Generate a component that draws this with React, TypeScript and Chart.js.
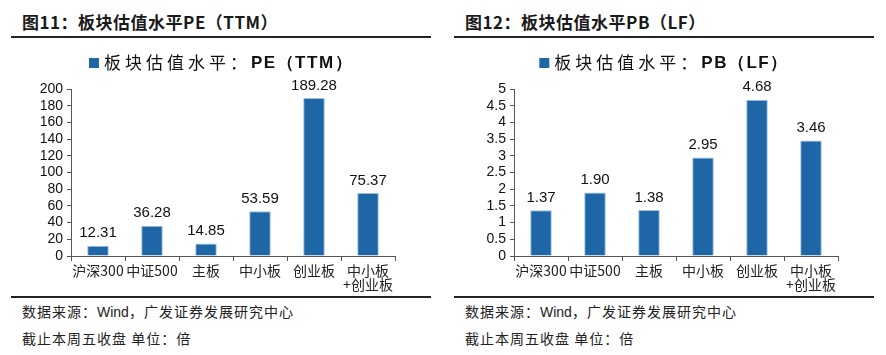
import React, { useEffect, useRef } from "react";
import { Chart, registerables } from "chart.js";

Chart.register(...registerables);

const categories: (string | string[])[] = ["沪深300", "中证500", "主板", "中小板", "创业板", ["中小板", "+创业板"]];
const peValues = [12.31, 36.28, 14.85, 53.59, 189.28, 75.37];
const pbValues = [1.37, 1.9, 1.38, 2.95, 4.68, 3.46];
const peAxis = { max: 200, step: 20 };
const pbAxis = { max: 5, step: 0.5 };

const BAR = "#1f66a6";
const CJK = '"Noto Sans CJK SC", "Liberation Sans", sans-serif';
const LAT = '"Liberation Sans", Arial, sans-serif';

const valueLabels = {
  id: "valueLabels",
  afterDatasetsDraw(chart: any) {
    const ctx = chart.ctx;
    const meta = chart.getDatasetMeta(0);
    const data = chart.data.datasets[0].data as number[];
    ctx.save();
    ctx.font = `15px ${LAT}`;
    ctx.fillStyle = "#111";
    ctx.textAlign = "center";
    ctx.textBaseline = "bottom";
    meta.data.forEach((bar: any, i: number) => {
      ctx.fillText(data[i].toFixed(2), bar.x, bar.y - 5);
    });
    ctx.restore();
  },
};

const mixedLegend = {
  id: "mixedLegend",
  afterDraw(chart: any) {
    const opts = chart.options.plugins.mixedLegend;
    if (!opts) return;
    const ctx = chart.ctx;
    ctx.save();
    ctx.textBaseline = "middle";
    ctx.font = `17px ${CJK}`;
    (ctx as any).letterSpacing = "4px";
    const w1 = ctx.measureText(opts.main).width;
    ctx.font = `bold 17px ${LAT}`;
    (ctx as any).letterSpacing = "1.5px";
    const w2 = ctx.measureText(opts.bold).width;
    const box = 10;
    const gap = 5;
    const total = box + gap + w1 + w2;
    let x = chart.width / 2 - total / 2;
    const y = opts.y;
    ctx.fillStyle = BAR;
    ctx.fillRect(x, y - box / 2, box, box);
    x += box + gap;
    ctx.fillStyle = "#111";
    ctx.font = `17px ${CJK}`;
    (ctx as any).letterSpacing = "4px";
    ctx.fillText(opts.main, x, y);
    x += w1;
    ctx.font = `bold 17px ${LAT}`;
    (ctx as any).letterSpacing = "1.5px";
    ctx.fillText(opts.bold, x, y);
    ctx.restore();
  },
};

function BarChart({ values, axis, legendMain, legendBold }: any) {
  const ref = useRef<HTMLCanvasElement>(null);
  useEffect(() => {
    const chart = new Chart(ref.current!, {
      type: "bar",
      data: {
        labels: categories,
        datasets: [
          {
            label: legendMain + legendBold,
            data: values,
            backgroundColor: BAR,
            borderColor: "#9cc3e6",
            borderWidth: 1,
            barPercentage: 0.4,
            categoryPercentage: 1,
          },
        ],
      },
      options: {
        animation: false,
        responsive: false,
        devicePixelRatio: 1,
        layout: { padding: { top: 47, right: 36, left: 0, bottom: 0 } },
        plugins: {
          legend: { display: false },
          tooltip: { enabled: false },
          mixedLegend: { main: legendMain, bold: legendBold, y: 21 },
        } as any,
        scales: {
          x: {
            offset: true,
            grid: {
              offset: true,
              drawOnChartArea: false,
              drawTicks: true,
              tickLength: 5,
              tickColor: "#555",
            },
            border: { color: "#555", width: 1 },
            ticks: {
              padding: 2,
              color: "#222",
              font: { family: CJK, size: 14, lineHeight: 1.05 },
              maxRotation: 0,
              autoSkip: false,
            },
            afterFit(scale: any) {
              scale.height = 40;
            },
          },
          y: {
            min: 0,
            max: axis.max,
            grid: {
              drawOnChartArea: false,
              drawTicks: true,
              tickLength: 4,
              tickColor: "#555",
            },
            border: { color: "#555", width: 1 },
            ticks: {
              stepSize: axis.step,
              autoSkip: false,
              padding: 4,
              color: "#111",
              font: { family: LAT, size: 14 },
              callback: (v: any) => String(Number(Number(v).toFixed(2))),
            },
            afterFit(scale: any) {
              scale.width = 60;
            },
          },
        },
      },
      plugins: [valueLabels, mixedLegend],
    });
    return () => chart.destroy();
  }, [values, axis, legendMain, legendBold]);
  return <canvas ref={ref} width={420} height={254} style={{ position: "absolute", left: 11, top: 42 }} />;
}

const footStyle: React.CSSProperties = {
  position: "absolute",
  left: 22,
  font: `14px ${CJK}`,
  letterSpacing: "1px",
  color: "#222",
  whiteSpace: "nowrap",
  lineHeight: "18px",
};

function Panel({ left, title, values, axis, legendBold }: any) {
  return (
    <div style={{ position: "absolute", left, top: 0, width: 443, height: 355 }}>
      <div
        style={{
          position: "absolute",
          left: 22,
          top: 10,
          font: `bold 17px ${CJK}`,
          letterSpacing: "0.5px",
          color: "#1a1a1a",
          whiteSpace: "nowrap",
          lineHeight: "24px",
        }}
      >
        {title}
      </div>
      <div style={{ position: "absolute", left: 11, top: 36, width: 420, height: 1.5, background: "#222" }} />
      <BarChart values={values} axis={axis} legendMain="板块估值水平：" legendBold={legendBold} />
      <div style={{ position: "absolute", left: 11, top: 296, width: 420, height: 1.5, background: "#222" }} />
      <div style={{ ...footStyle, top: 302 }}>
        数据来源：<span style={{ fontFamily: LAT, letterSpacing: 0 }}>Wind</span>，广发证券发展研究中心
      </div>
      <div style={{ ...footStyle, top: 329 }}>截止本周五收盘 单位：倍</div>
    </div>
  );
}

export default function App() {
  return (
    <div style={{ position: "absolute", left: 0, top: 0, width: 886, height: 355, background: "#fff", overflow: "hidden" }}>
      <Panel left={0} title="图11：板块估值水平PE（TTM）" values={peValues} axis={peAxis} legendBold="PE（TTM）" />
      <Panel left={443} title="图12：板块估值水平PB（LF）" values={pbValues} axis={pbAxis} legendBold="PB（LF）" />
    </div>
  );
}
